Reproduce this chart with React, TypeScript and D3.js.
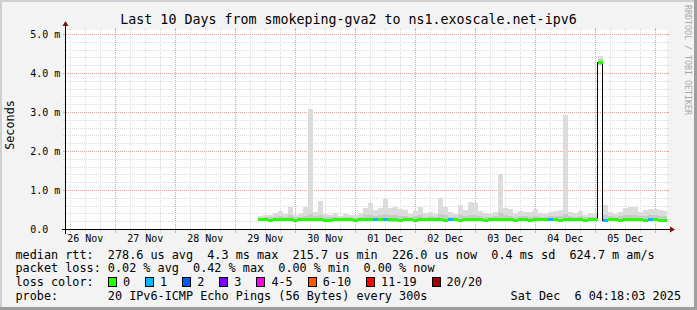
import React from 'react';
import * as d3 from 'd3';

const W = 697;
const H = 310;

// ---- data ----
const rangeStart = Date.UTC(2025, 10, 26, 4, 18, 3);
const rangeEnd = Date.UTC(2025, 11, 6, 4, 18, 3);
const firstBin = Date.UTC(2025, 10, 29, 9, 0, 0);
const binHours = 2;

const medianMs = [
  0.25, 0.25, 0.24, 0.25, 0.25, 0.26, 0.25, 0.24, 0.25, 0.25,
  0.25, 0.26, 0.25, 0.24, 0.24, 0.25, 0.25, 0.26, 0.25, 0.24,
  0.25, 0.25, 0.26, 0.25, 0.25, 0.26, 0.25, 0.25, 0.24, 0.25,
  0.25, 0.24, 0.25, 0.25, 0.25, 0.26, 0.25, 0.24, 0.25, 0.25,
  0.24, 0.25, 0.26, 0.25, 0.25, 0.24, 0.25, 0.25, 0.25, 0.26,
  0.25, 0.24, 0.25, 0.25, 0.24, 0.25, 0.25, 0.26, 0.25, 0.25,
  0.24, 0.25, 0.25, 0.26, 0.25, 0.24, 0.25, 0.25, 4.27, 0.24,
  0.25, 0.25, 0.24, 0.25, 0.26, 0.25, 0.25, 0.24, 0.25, 0.25,
  0.24, 0.23,
];
const lossCount = [
  0, 0, 0, 0, 0, 0, 0, 0, 0, 0,
  0, 0, 0, 0, 0, 0, 0, 0, 0, 0,
  0, 0, 0, 1, 0, 1, 0, 0, 0, 0,
  0, 0, 0, 0, 0, 0, 0, 0, 1, 0,
  0, 0, 0, 0, 0, 0, 0, 0, 0, 0,
  0, 0, 0, 0, 0, 0, 0, 0, 1, 0,
  0, 0, 0, 0, 0, 0, 0, 0, 0, 1,
  0, 0, 0, 0, 0, 0, 0, 0, 1, 0,
  0, 0,
];
const smokeLoMs = [
  0.21, 0.21, 0.21, 0.21, 0.21, 0.22, 0.21, 0.21, 0.21, 0.21,
  0.21, 0.21, 0.22, 0.21, 0.21, 0.21, 0.21, 0.21, 0.21, 0.21,
  0.21, 0.21, 0.21, 0.21, 0.22, 0.21, 0.20, 0.20, 0.21, 0.21,
  0.21, 0.21, 0.21, 0.21, 0.21, 0.21, 0.21, 0.21, 0.21, 0.21,
  0.21, 0.21, 0.21, 0.21, 0.21, 0.21, 0.21, 0.21, 0.21, 0.21,
  0.21, 0.21, 0.21, 0.21, 0.21, 0.21, 0.21, 0.21, 0.21, 0.21,
  0.21, 0.21, 0.21, 0.21, 0.21, 0.21, 0.21, 0.21, 4.22, 0.21,
  0.21, 0.21, 0.21, 0.21, 0.21, 0.21, 0.21, 0.21, 0.21, 0.21,
  0.21, 0.21,
];
const smokeMidMs = [
  0.30, 0.32, 0.31, 0.33, 0.35, 0.32, 0.36, 0.31, 0.33, 0.35,
  0.40, 0.34, 0.38, 0.32, 0.31, 0.33, 0.30, 0.32, 0.31, 0.30,
  0.33, 0.36, 0.38, 0.35, 0.36, 0.40, 0.36, 0.37, 0.35, 0.34,
  0.32, 0.34, 0.36, 0.33, 0.34, 0.32, 0.40, 0.36, 0.33, 0.32,
  0.37, 0.35, 0.38, 0.38, 0.34, 0.33, 0.32, 0.34, 0.42, 0.36,
  0.35, 0.33, 0.34, 0.34, 0.33, 0.35, 0.32, 0.32, 0.34, 0.35,
  0.35, 0.40, 0.34, 0.33, 0.34, 0.31, 0.33, 0.32, 4.36, 0.38,
  0.34, 0.32, 0.34, 0.37, 0.38, 0.38, 0.34, 0.35, 0.36, 0.36,
  0.35, 0.34,
];
const smokeHiMs = [
  0.35, 0.38, 0.36, 0.42, 0.48, 0.40, 0.58, 0.38, 0.42, 0.57,
  3.10, 0.45, 0.72, 0.40, 0.37, 0.42, 0.35, 0.40, 0.38, 0.36,
  0.42, 0.55, 0.68, 0.50, 0.55, 0.78, 0.55, 0.57, 0.53, 0.50,
  0.40, 0.48, 0.58, 0.42, 0.45, 0.40, 0.80, 0.58, 0.45, 0.40,
  0.62, 0.50, 0.70, 0.67, 0.48, 0.42, 0.40, 0.45, 1.42, 0.55,
  0.52, 0.42, 0.48, 0.45, 0.45, 0.52, 0.42, 0.40, 0.45, 0.48,
  0.50, 2.93, 0.45, 0.42, 0.48, 0.38, 0.42, 0.40, 4.44, 0.62,
  0.45, 0.40, 0.45, 0.55, 0.58, 0.58, 0.45, 0.50, 0.53, 0.52,
  0.50, 0.48,
];

const yMajor = [0, 1, 2, 3, 4, 5];
const yMinorStep = 0.2;
const lossLabels = ['0', '1', '2', '3', '4-5', '6-10', '11-19', '20/20'];
const lossUpper = [0, 1, 2, 3, 5, 10, 19, 20];
const lossColors = ['#26ff00', '#00b8ff', '#0059ff', '#7e00ff', '#ff00ea', '#ff5500', '#ff0000', '#a10000'];

const titleText = 'Last 10 Days from smokeping-gva2 to ns1.exoscale.net-ipv6';
const yLabel = 'Seconds';
const watermark = 'RRDTOOL / TOBI OETIKER';
const legendRtt = 'median rtt:  278.6 us avg  4.3 ms max  215.7 us min  226.0 us now  0.4 ms sd  624.7 m am/s';
const legendLoss = 'packet loss: 0.02 % avg  0.42 % max  0.00 % min  0.00 % now';
const legendColorHead = 'loss color:';
const legendProbe = 'probe:       20 IPv6-ICMP Echo Pings (56 Bytes) every 300s';
const legendDate = 'Sat Dec  6 04:18:03 2025';

// ---- layout ----
const X0 = 66;
const X1 = 666;
const Y0 = 229.5;
const YTOP = 29.5;
const MONO = "'DejaVu Sans Mono', monospace";
const CHARW = 7.1;

const x = d3.scaleUtc().domain([rangeStart, rangeEnd]).range([X0, X1]);
const y = d3.scaleLinear().domain([0, 5]).range([Y0, 34.5]);
const snap = (v: number) => Math.floor(v) + 0.5;

function lossColor(n: number) {
  const i = lossUpper.findIndex((u) => n <= u);
  return lossColors[i < 0 ? lossColors.length - 1 : i];
}

export default function App() {
  const bins = medianMs.map((m, k) => {
    const t0 = firstBin + k * binHours * 3600e3;
    const t1 = t0 + binHours * 3600e3;
    return {
      x0: Math.max(X0, x(t0)),
      x1: Math.min(X1 + 1, x(t1)),
      med: m,
      loss: lossCount[k],
      lo: smokeLoMs[k],
      mid: smokeMidMs[k],
      hi: smokeHiMs[k],
    };
  });

  // grid
  const minorY: number[] = [];
  for (let v = yMinorStep; v <= 5.2 + 1e-9; v += yMinorStep) {
    const py = y(v);
    if (py >= YTOP - 0.5 && Math.abs(v - Math.round(v)) > 1e-6) minorY.push(snap(py));
  }
  const majorY = yMajor.filter((v) => v > 0).map((v) => snap(y(v)));
  const hours6 = d3.utcHour.every(6)!.range(new Date(rangeStart), new Date(rangeEnd));
  const minorX = hours6.filter((d) => d.getUTCHours() !== 0).map((d) => snap(x(d)));
  const days = d3.utcDay.range(new Date(rangeStart), new Date(rangeEnd));
  const majorX = days.map((d) => snap(x(d)));
  const labelDays = d3.utcDay.range(d3.utcDay.floor(new Date(rangeStart)), new Date(rangeEnd));
  const fmt = d3.utcFormat('%d %b');

  const medLine = d3
    .line<[number, number]>()
    .curve(d3.curveStepAfter)(
      [
        ...bins.map((b) => [b.x0, snap(y(b.med))] as [number, number]),
        [bins[bins.length - 1].x1, snap(y(bins[bins.length - 1].med))],
      ]
    );

  // legend boxes positions
  let lx = 108.5;
  const legendItems = lossLabels.map((lab, i) => {
    const item = { bx: lx, tx: lx + 14.5, lab, color: lossColors[i] };
    lx += 15 + lab.length * CHARW + 15;
    return item;
  });

  const gridMinor = '#dcdcdc';
  const gridMajor = '#e8a0a0';

  return (
    <svg
      width={W}
      height={H}
      style={{ position: 'absolute', left: 0, top: 0, display: 'block' }}
      fontFamily={MONO}
    >
      {/* background & frame */}
      <rect x={0} y={0} width={W} height={H} fill="#f3f3f3" />
      <rect x={0} y={0} width={W} height={2} fill="#cfcfcf" />
      <rect x={0} y={0} width={2} height={H} fill="#cfcfcf" />
      <rect x={W - 3} y={0} width={3} height={H} fill="#9e9e9e" />
      <rect x={0} y={H - 3} width={W} height={3} fill="#9e9e9e" />

      {/* canvas */}
      <rect x={X0} y={YTOP + 0.5} width={X1 - X0 + 1} height={Y0 - YTOP} fill="#ffffff" />

      {/* minor grid */}
      <g stroke={gridMinor} strokeWidth={1} shapeRendering="crispEdges">
        {minorY.map((py, i) => (
          <g key={'my' + i}>
            <line x1={X0} x2={X1 + 1} y1={py} y2={py} strokeDasharray="1,1" />
            <line x1={X0 - 3} x2={X0} y1={py} y2={py} />
            <line x1={X1 + 1} x2={X1 + 3} y1={py} y2={py} />
          </g>
        ))}
        {minorX.map((px, i) => (
          <g key={'mx' + i}>
            <line x1={px} x2={px} y1={YTOP} y2={Y0} strokeDasharray="1,1" />
            <line x1={px} x2={px} y1={Y0} y2={Y0 + 3} />
            <line x1={px} x2={px} y1={YTOP - 2} y2={YTOP} />
          </g>
        ))}
      </g>
      {/* major grid */}
      <g stroke={gridMajor} strokeWidth={1} shapeRendering="crispEdges">
        {majorY.map((py, i) => (
          <g key={'My' + i}>
            <line x1={X0} x2={X1 + 1} y1={py} y2={py} strokeDasharray="1,1" />
            <line x1={X0 - 3} x2={X0} y1={py} y2={py} />
            <line x1={X1 + 1} x2={X1 + 3} y1={py} y2={py} />
          </g>
        ))}
        {majorX.map((px, i) => (
          <g key={'Mx' + i}>
            <line x1={px} x2={px} y1={YTOP} y2={Y0} strokeDasharray="1,1" />
            <line x1={px} x2={px} y1={Y0} y2={Y0 + 3} />
            <line x1={px} x2={px} y1={YTOP - 2} y2={YTOP} />
          </g>
        ))}
      </g>

      {/* smoke */}
      <g shapeRendering="crispEdges">
        {bins.map((b, i) => (
          <rect key={'so' + i} x={b.x0} width={b.x1 - b.x0} y={y(b.hi)} height={y(b.lo) - y(b.hi)} fill="#dcdcdc" />
        ))}
        {bins.map((b, i) => (
          <rect key={'si' + i} x={b.x0} width={b.x1 - b.x0} y={y(b.mid)} height={y(b.lo) - y(b.mid)} fill="#c9c9c9" />
        ))}
      </g>

      {/* median black step line */}
      <path d={medLine || ''} fill="none" stroke="#000" strokeWidth={1} shapeRendering="crispEdges" />
      {/* loss coloured median */}
      <g shapeRendering="crispEdges">
        {bins.map((b, i) => (
          <line
            key={'ml' + i}
            x1={b.x0}
            x2={b.x1}
            y1={snap(y(b.med))}
            y2={snap(y(b.med))}
            stroke={lossColor(b.loss)}
            strokeWidth={3}
          />
        ))}
      </g>

      {/* axes */}
      <g stroke="#000" strokeWidth={1} shapeRendering="crispEdges">
        <line x1={X0 - 4} x2={X1 + 5} y1={Y0} y2={Y0} />
        <line x1={X0 - 0.5} x2={X0 - 0.5} y1={Y0 + 4} y2={YTOP - 4} />
      </g>
      <path d={`M${X1 + 4},${Y0 - 3} L${X1 + 9},${Y0} L${X1 + 4},${Y0 + 3} Z`} fill="#7f1010" />
      <path d={`M${X0 - 3.5},${YTOP - 3.5} L${X0 - 0.5},${YTOP - 8.5} L${X0 + 2.5},${YTOP - 3.5} Z`} fill="#7f1010" />

      {/* y labels */}
      <g fontSize={10} fill="#000">
        {yMajor.map((v) => (
          <text key={'yl' + v} x={30.2} y={y(v) + 3.5}>
            {v === 0 ? '0.0' : `${v.toFixed(1)} m`}
          </text>
        ))}
      </g>
      {/* x labels */}
      <g fontSize={10} fill="#000" textAnchor="middle">
        {labelDays.map((d, i) => {
          const px = x(d3.utcHour.offset(d, 12));
          if (px < X0 || px > X1) return null;
          return (
            <text key={'xl' + i} x={px} y={241.5}>
              {fmt(d)}
            </text>
          );
        })}
      </g>

      {/* title */}
      <text x={348.5} y={23.5} fontSize={13.3} textAnchor="middle" fill="#000">
        {titleText}
      </text>
      {/* y-axis label */}
      <text
        transform="translate(14,125) rotate(-90)"
        fontSize={11.8}
        textAnchor="middle"
        fill="#000"
      >
        {yLabel}
      </text>
      {/* watermark */}
      <text transform="translate(685,5) rotate(90)" fontSize={8.3} fill="#a8a8a8">
        {watermark}
      </text>

      {/* legend */}
      <g fontSize={11.8} fill="#000" style={{ whiteSpace: 'pre' }}>
        <text x={15.5} y={258.5} xmlSpace="preserve">{legendRtt}</text>
        <text x={15.5} y={272.4} xmlSpace="preserve">{legendLoss}</text>
        <text x={15.5} y={286.2} xmlSpace="preserve">{legendColorHead}</text>
        {legendItems.map((it, i) => (
          <g key={'lg' + i}>
            <rect x={it.bx} y={277.5} width={8} height={9} fill={it.color} stroke="#000" strokeWidth={1} shapeRendering="crispEdges" />
            <text x={it.tx} y={286.2}>{it.lab}</text>
          </g>
        ))}
        <text x={15.5} y={300} xmlSpace="preserve">{legendProbe}</text>
        <text x={681} y={300} textAnchor="end" xmlSpace="preserve">{legendDate}</text>
      </g>
    </svg>
  );
}
